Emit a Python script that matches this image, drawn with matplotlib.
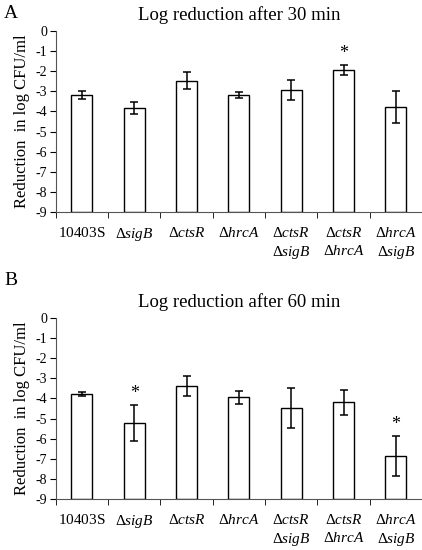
import numpy as np
import matplotlib
matplotlib.use('Agg')
import matplotlib.pyplot as plt

# データ
strains = [r'$\mathrm{10403S}$', r'$\Delta\mathit{sigB}$', r'$\Delta\mathit{ctsR}$', r'$\Delta\mathit{hrcA}$',
           '$\\Delta\\mathit{ctsR}$\n$\\Delta\\mathit{sigB}$',
           '$\\Delta\\mathit{ctsR}$\n$\\Delta\\mathit{hrcA}$',
           '$\\Delta\\mathit{hrcA}$\n$\\Delta\\mathit{sigB}$']
red_30 = [-3.2, -3.82, -2.47, -3.18, -2.95, -1.93, -3.78]
err_30 = [0.2, 0.3, 0.42, 0.15, 0.5, 0.23, 0.78]
sig_30 = [False, False, False, False, False, True, False]
red_60 = [-3.78, -5.22, -3.4, -3.95, -4.48, -4.18, -6.88]
err_60 = [0.08, 0.9, 0.5, 0.33, 1.0, 0.62, 1.0]
sig_60 = [False, True, False, False, False, False, True]
yticks = list(range(0, -10, -1))

plt.rcParams['font.family'] = ['Liberation Serif', 'DejaVu Serif']
plt.rcParams['mathtext.fontset'] = 'custom'
plt.rcParams['mathtext.rm'] = 'Liberation Serif'
plt.rcParams['mathtext.it'] = 'Liberation Serif:italic'

fig = plt.figure(figsize=(4.22, 5.5), dpi=100)
ax_a = fig.add_axes([0.132, 0.6145, 0.868, 0.329])
ax_b = fig.add_axes([0.132, 0.0927, 0.868, 0.329])

ymin = -9
for ax, vals, errs, sig, title in [(ax_a, red_30, err_30, sig_30, 'Log reduction after 30 min'),
                                   (ax_b, red_60, err_60, sig_60, 'Log reduction after 60 min')]:
    x = np.arange(len(vals))
    vals = np.array(vals)
    ax.bar(x, vals - ymin, bottom=ymin, width=0.4, color='white', edgecolor='black', linewidth=1.0)
    ax.errorbar(x, vals, yerr=errs, fmt='none', ecolor='black', elinewidth=1.1,
                capsize=3, capthick=1.1)
    for i in range(len(vals)):
        if sig[i]:
            ax.text(x[i], vals[i] + errs[i] + 0.15, '*', ha='center', va='bottom', fontsize=13)
    ax.set_xlim(-0.5, len(vals) - 0.5)
    ax.set_ylim(ymin, 0)
    ax.set_yticks(yticks)
    ax.set_yticklabels([str(t) for t in yticks], fontsize=10)
    ax.set_xticks(x)
    ax.set_xticklabels(strains, fontsize=11, va='top', linespacing=1.35)
    ax.tick_params(axis='x', length=0, pad=10)
    ax.set_xticks(np.arange(len(vals) + 1) - 0.5, minor=True)
    ax.tick_params(axis='x', which='minor', length=4, direction='out')
    ax.tick_params(axis='y', length=4, direction='out', pad=2)
    for s in ['top', 'right']:
        ax.spines[s].set_visible(False)
    ax.spines['left'].set_color('#555555')
    ax.spines['bottom'].set_color('#555555')
    ax.set_ylabel('Reduction  in log CFU/ml', fontsize=12, labelpad=4)
    ax.set_title(title, fontsize=13.5, pad=8)

fig.text(0.01, 0.975, 'A', fontsize=14, va='center')
fig.text(0.01, 0.49, 'B', fontsize=14, va='center')

plt.savefig('out.png', dpi=100)
plt.close()
